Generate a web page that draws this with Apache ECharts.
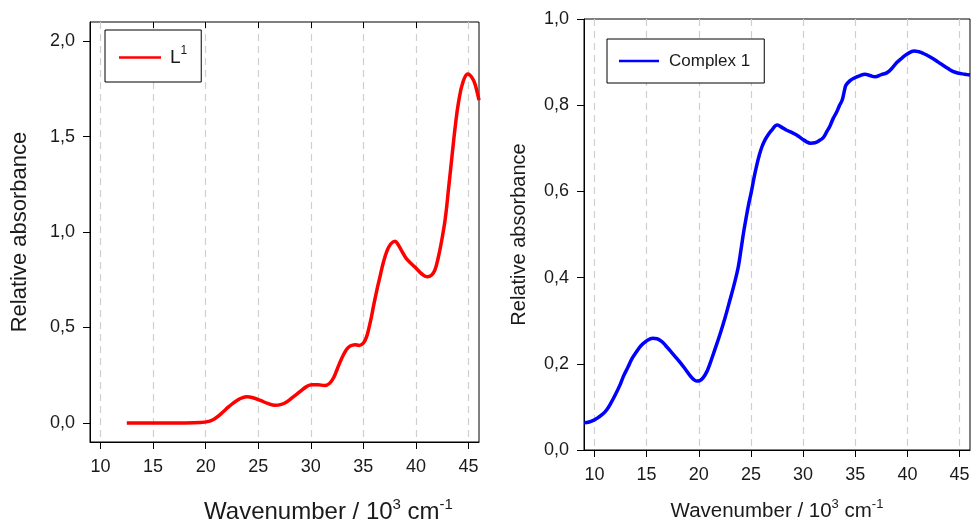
<!DOCTYPE html>
<html>
<head>
<meta charset="utf-8">
<script src="https://cdn.jsdelivr.net/npm/echarts@6/dist/echarts.min.js"></script>
<style>
  html, body { margin: 0; padding: 0; background: #fff; }
  #chart { width: 971px; height: 526px; }
</style>
</head>
<body>
<div id="chart"></div>
<script>
// UV-Vis spectra: free ligand L1 (left) and Complex 1 (right)
const l1Wavenumber = [12.5, 14, 16, 18, 19.5, 20.3, 20.75, 21.2, 21.7, 22.2, 22.65, 23.2, 23.9, 24.5, 25.2, 25.9, 26.6, 27.2, 27.7, 28.3, 29.0, 29.6, 30.1, 30.7, 31.3, 31.8, 32.2, 32.5, 32.96, 33.4, 33.75, 34.2, 34.6, 35.0, 35.3, 35.5, 35.75, 35.96, 36.3, 36.6, 36.9, 37.24, 37.6, 38.0, 38.3, 38.66, 39.0, 39.3, 39.93, 40.57, 41.1, 41.5, 41.8, 42.1, 42.4, 42.78, 43.1, 43.42, 43.73, 44.05, 44.46, 44.94, 45.42, 45.7, 46.0];
const l1Absorbance = [0.0, 0.0, 0.0, 0.0, 0.002, 0.008, 0.018, 0.035, 0.060, 0.085, 0.105, 0.125, 0.137, 0.132, 0.118, 0.102, 0.092, 0.097, 0.110, 0.135, 0.165, 0.190, 0.200, 0.200, 0.196, 0.208, 0.240, 0.280, 0.340, 0.385, 0.403, 0.410, 0.406, 0.418, 0.450, 0.490, 0.550, 0.610, 0.700, 0.770, 0.840, 0.900, 0.937, 0.952, 0.935, 0.900, 0.868, 0.848, 0.815, 0.780, 0.765, 0.775, 0.800, 0.860, 0.940, 1.065, 1.225, 1.391, 1.548, 1.679, 1.783, 1.827, 1.801, 1.760, 1.690];

const complexWavenumber = [9.0, 9.5, 10.0, 10.4, 10.83, 11.2, 11.63, 12.0, 12.43, 12.8, 13.23, 13.6, 14.03, 14.5, 14.99, 15.6, 16.0, 16.43, 16.8, 17.23, 17.7, 18.19, 18.7, 19.15, 19.5, 19.8, 20.1, 20.43, 20.8, 21.07, 21.5, 22.03, 22.5, 22.99, 23.4, 23.79, 24.05, 24.3, 24.55, 24.8, 25.05, 25.3, 25.55, 25.8, 26.05, 26.34, 26.7, 26.99, 27.52, 28.0, 28.42, 28.9, 29.38, 29.9, 30.34, 30.7, 31.14, 31.5, 31.94, 32.3, 32.58, 32.9, 33.22, 33.5, 33.75, 34.0, 34.12, 34.5, 34.82, 35.4, 35.94, 36.4, 36.9, 37.5, 38.02, 38.5, 38.98, 39.5, 39.94, 40.64, 41.1, 41.53, 42.1, 42.66, 43.2, 43.78, 44.3, 44.9, 45.5, 46.0];
const complexAbsorbance = [0.063, 0.065, 0.070, 0.076, 0.084, 0.094, 0.111, 0.128, 0.150, 0.172, 0.193, 0.212, 0.228, 0.243, 0.253, 0.259, 0.258, 0.252, 0.243, 0.231, 0.218, 0.204, 0.188, 0.173, 0.164, 0.160, 0.161, 0.168, 0.183, 0.200, 0.230, 0.268, 0.305, 0.348, 0.385, 0.425, 0.465, 0.505, 0.540, 0.572, 0.600, 0.632, 0.660, 0.684, 0.703, 0.719, 0.733, 0.742, 0.754, 0.748, 0.742, 0.737, 0.731, 0.722, 0.715, 0.712, 0.713, 0.717, 0.725, 0.740, 0.752, 0.770, 0.784, 0.800, 0.812, 0.838, 0.847, 0.857, 0.862, 0.868, 0.872, 0.869, 0.866, 0.871, 0.875, 0.885, 0.899, 0.910, 0.918, 0.926, 0.924, 0.920, 0.913, 0.905, 0.896, 0.887, 0.879, 0.874, 0.872, 0.870];

const xTicks = [10, 15, 20, 25, 30, 35, 40, 45];
const xTopTicks = [15, 20, 25, 30, 35, 40];
const yTicksLeft = [0, 0.5, 1.0, 1.5, 2.0];

const FONT = '"Liberation Sans", Arial, Helvetica, sans-serif';
const TXT = '#1a1a1a';

const zip = (xs, ys) => xs.map((x, i) => [x, ys[i]]);
const comma = v => v.toFixed(1).replace('.', ',');

// rich styles: main text plus raised superscripts
const supRich = (size, sup) => ({
  a: { fontSize: size, fontFamily: FONT, color: TXT, lineHeight: Math.round(size * 1.3) },
  b: { fontSize: sup, fontFamily: FONT, color: TXT, lineHeight: sup + 1, verticalAlign: 'top' }
});

function bottomAxis(gridIndex, nameGap, size, sup, padLeft) {
  return {
    gridIndex, type: 'value', min: 9, max: 46, position: 'bottom',
    axisLine: { show: true, onZero: false, lineStyle: { color: '#000', width: 1 } },
    axisTick: { show: true, length: 7, customValues: xTicks, lineStyle: { color: '#000' } },
    axisLabel: { customValues: xTicks, fontSize: 18, fontFamily: FONT, color: TXT, margin: 16 },
    splitLine: { show: true, lineStyle: { color: '#cfcfcf', width: 1.2, type: [7, 5] } },
    name: '{a|Wavenumber / 10}{b|3}{a| cm}{b|-1}',
    nameLocation: 'middle', nameGap,
    nameTextStyle: { rich: supRich(size, sup), padding: [0, 0, 0, padLeft] }
  };
}

const chart = echarts.init(document.getElementById('chart'), null, { renderer: 'canvas' });

chart.setOption({
  animation: false,
  backgroundColor: '#fff',
  grid: [
    { left: 90, top: 22, width: 389, height: 420, show: true, borderColor: '#000', borderWidth: 1, containLabel: false, outerBoundsMode: 'none' },
    { left: 584, top: 19, width: 386, height: 431, show: true, borderColor: '#000', borderWidth: 1, containLabel: false, outerBoundsMode: 'none' }
  ],
  xAxis: [
    bottomAxis(0, 55, 24, 15, 88),
    {
      gridIndex: 0, type: 'value', min: 9, max: 46, position: 'top',
      axisLine: { show: false, onZero: false },
      axisTick: { show: true, inside: true, length: 6, customValues: xTopTicks, lineStyle: { color: '#000' } },
      axisLabel: { show: false },
      splitLine: { show: false }
    },
    bottomAxis(1, 48, 20.5, 13, 0)
  ],
  yAxis: [
    {
      gridIndex: 0, type: 'value', min: -0.1, max: 2.1,
      axisLine: { show: true, onZero: false, lineStyle: { color: '#000', width: 1 } },
      axisTick: { show: true, length: 7, customValues: yTicksLeft, lineStyle: { color: '#000' } },
      axisLabel: { customValues: yTicksLeft, formatter: comma, fontSize: 18, fontFamily: FONT, color: TXT, margin: 15 },
      splitLine: { show: false },
      name: 'Relative absorbance', nameLocation: 'middle', nameGap: 59,
      nameTextStyle: { fontSize: 22, fontFamily: FONT, color: TXT }
    },
    {
      gridIndex: 1, type: 'value', min: 0, max: 1, interval: 0.2,
      axisLine: { show: true, onZero: false, lineStyle: { color: '#000', width: 1 } },
      axisTick: { show: true, length: 7, lineStyle: { color: '#000' } },
      axisLabel: { formatter: comma, fontSize: 18, fontFamily: FONT, color: TXT, margin: 15 },
      splitLine: { show: false },
      name: 'Relative absorbance', nameLocation: 'middle', nameGap: 55,
      nameTextStyle: { fontSize: 20, fontFamily: FONT, color: TXT }
    }
  ],
  legend: [
    {
      data: ['L1'], left: 105, top: 30,
      padding: [15, 14, 15, 14],
      borderColor: '#000', borderWidth: 1, backgroundColor: '#fff',
      icon: 'rect', itemWidth: 42, itemHeight: 2.5,
      formatter: () => '{a|L}{b|1}',
      textStyle: { padding: [0, 0, 0, 4], rich: supRich(19, 12) }
    },
    {
      data: ['Complex 1'], left: 607, top: 39,
      padding: [12, 14, 12, 12],
      borderColor: '#000', borderWidth: 1, backgroundColor: '#fff',
      icon: 'rect', itemWidth: 40, itemHeight: 2.5,
      textStyle: { fontSize: 17, fontFamily: FONT, color: TXT, padding: [0, 0, 0, 5], lineHeight: 20 }
    }
  ],
  series: [
    {
      name: 'L1', type: 'line', xAxisIndex: 0, yAxisIndex: 0,
      data: zip(l1Wavenumber, l1Absorbance),
      symbol: 'none', smooth: 0.4,
      color: '#ff0000',
      lineStyle: { color: '#ff0000', width: 3.5 }
    },
    {
      name: 'Complex 1', type: 'line', xAxisIndex: 2, yAxisIndex: 1,
      data: zip(complexWavenumber, complexAbsorbance),
      symbol: 'none', smooth: 0.4,
      color: '#0000ff',
      lineStyle: { color: '#0000ff', width: 3.5 }
    }
  ]
});
</script>
</body>
</html>
